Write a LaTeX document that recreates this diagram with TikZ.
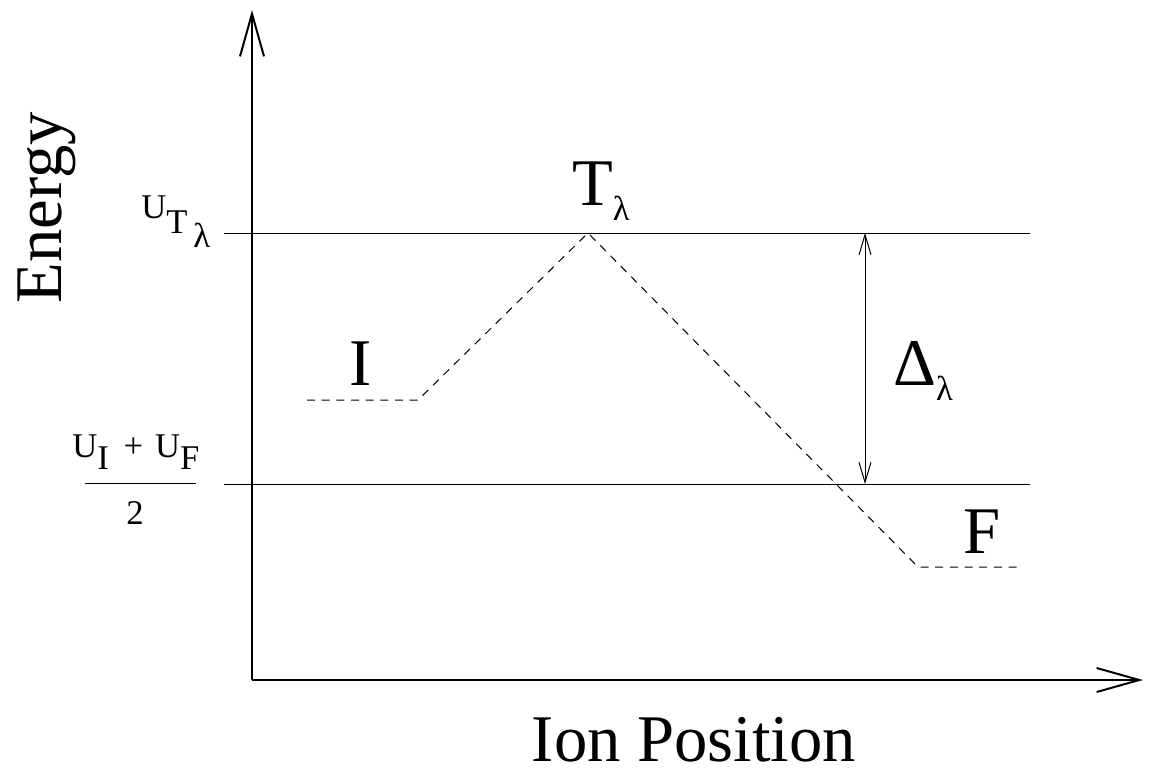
\documentclass[tikz,border=0pt]{standalone}
\usepackage{fontspec}
\setmainfont{Liberation Serif}
\usetikzlibrary{arrows.meta}

\begin{document}
\begin{tikzpicture}[x=0.75pt,y=-0.75pt,
    big/.style={font=\fontsize{50}{52}\selectfont,inner sep=0pt},
    small/.style={font=\fontsize{26}{28}\selectfont,inner sep=0pt},
    axisarr/.style={line width=1.5pt,-{Straight Barb[length=32pt,width=18pt]}},
    level/.style={line width=0.75pt},
    path/.style={line width=0.75pt,dash pattern=on 6pt off 5pt},
    gap/.style={line width=0.75pt,
      {Straight Barb[length=15pt,width=9pt]}-{Straight Barb[length=15pt,width=9pt]}}]
  \useasboundingbox (0,0) rectangle (1150,772);

  %% Axes
  \coordinate (o) at (252,680);
  \coordinate (ytip) at (252,10);
  \coordinate (xtip) at (1143,680);
  \draw[axisarr] (o) -- (ytip);
  \draw[axisarr] (o) -- (xtip);
  \node[big,rotate=90,anchor=base] (ylab) at (61,208) {Energy};
  \node[big,anchor=base] (xlab) at (694,761) {Ion Position};

  %% Reference levels
  \coordinate (ta) at (224,233);
  \coordinate (tb) at (1030,233);
  \coordinate (ma) at (224,484);
  \coordinate (mb) at (1030,484);
  \draw[level] (ta) -- (tb);
  \draw[level] (ma) -- (mb);

  %% Level labels
  \node[small,anchor=base west] (ut) at (141,218)
        {U\raisebox{-11.25pt}{T\raisebox{-10.5pt}{\,λ}}};
  \node[small,anchor=base west] (num) at (72,457)
        {U\raisebox{-9pt}{I}\hspace{11pt}+\hspace{9pt}U\raisebox{-9pt}{F}};
  \node[small,anchor=base] (den) at (135,524) {2};
  \coordinate (fa) at (85,483);
  \coordinate (fb) at (196,483);
  \draw[level] (fa) -- (fb);

  %% Reaction path
  \coordinate (i1) at (307,400);
  \coordinate (i2) at (418,400);
  \coordinate (ts) at (588,233);
  \coordinate (f1) at (918,567);
  \coordinate (f2) at (1021,567);
  \draw[path] (i1) -- (i2) -- (ts) -- (f1) -- (f2);
  \node[big,anchor=base] (ini) at (361,385) {I};
  \node[big,anchor=base west] (tr) at (572,205)
        {T\raisebox{-11.25pt}{\fontsize{26}{28}\selectfont λ}};
  \node[big,anchor=base west] (fin) at (963,553) {F};

  %% Barrier height
  \coordinate (dtop) at (865,233);
  \coordinate (dbot) at (865,484);
  \draw[gap] (dbot) -- (dtop);
  \node[big,anchor=base west] (del) at (893,385)
        {Δ\raisebox{-11.25pt}{\fontsize{26}{28}\selectfont λ}};
\end{tikzpicture}
\end{document}
